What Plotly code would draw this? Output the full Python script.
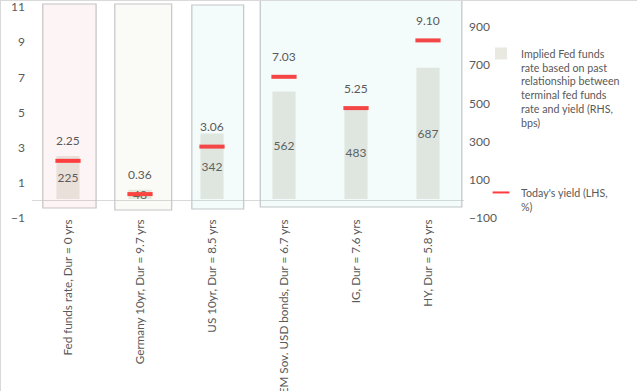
import plotly.graph_objects as go

categories = [
    "Fed funds rate, Dur = 0 yrs",
    "Germany 10yr, Dur = 9.7 yrs",
    "US 10yr, Dur = 8.5 yrs",
    "EM Sov. USD bonds, Dur = 6.7 yrs",
    "IG, Dur = 7.6 yrs",
    "HY, Dur = 5.8 yrs",
]
implied_bps = [225, 48, 342, 562, 483, 687]
todays_yield = [2.25, 0.36, 3.06, 7.03, 5.25, 9.10]

bar_name = ("Implied Fed funds<br>rate based on past<br>relationship between"
            "<br>terminal fed funds<br>rate and yield (RHS,<br>bps)")
line_name = "Today's yield (LHS,<br>%)"

FONT = "Lato"
TXT = "#595959"
W, H = 637, 391
ML, MR, MT, MB = 32, 173, 7, 173
PW = W - ML - MR
PH = H - MT - MB
BOTTOM = H - MB  # pixel row of plot bottom


def ypap(px):
    return (BOTTOM - px) / PH


def xpap(i):
    # category index -> paper x
    return (i + 0.5) / len(categories)


fig = go.Figure()
fig.add_trace(go.Bar(
    x=categories, y=implied_bps, name=bar_name, yaxis="y",
    marker=dict(color="#e9e9e1", line=dict(width=0)),
    width=0.32,
    text=[str(v) for v in implied_bps], textposition="inside",
    insidetextanchor="middle", textangle=0, constraintext="none",
    textfont=dict(family=FONT, size=12, color=TXT),
    legend="legend",
))
fig.add_trace(go.Scatter(
    x=categories, y=todays_yield, name=line_name, mode="markers",
    yaxis="y2",
    marker=dict(symbol="line-ew", size=18, color="#ff3b3b",
                line=dict(color="#ff3b3b", width=4)),
    legend="legend2",
))

annotations = []
for c, v in zip(categories, todays_yield):
    annotations.append(dict(x=c, y=v, xref="x", yref="y2", text=f"{v:.2f}",
                            showarrow=False, yshift=20,
                            font=dict(family=FONT, size=12, color=TXT)))

boxes = [
    (-0.35, 0.39, 4, 208, "rgba(230,120,120,0.07)", "#c6c2c2"),
    (0.65, 1.44, 4, 210, "rgba(190,200,130,0.07)", "#c6c6c6"),
    (1.72, 2.44, 5, 209, "rgba(120,200,210,0.08)", "#c2c6c7"),
    (2.67, 5.47, 0, 207, "rgba(120,200,210,0.08)", "#bfc5c6"),
]
shapes = []
for x0, x1, top, bot, fill, border in boxes:
    shapes.append(dict(type="rect", xref="paper", yref="paper",
                       x0=xpap(x0), x1=xpap(x1), y0=ypap(bot), y1=ypap(top),
                       fillcolor=fill, line=dict(color=border, width=1.2),
                       layer="above"))
# chart border (left and top)
shapes.append(dict(type="line", xref="paper", yref="paper",
                   x0=(0.5 - ML) / PW, x1=(0.5 - ML) / PW, y0=ypap(H), y1=ypap(0),
                   line=dict(color="#d9d9d9", width=1)))
shapes.append(dict(type="line", xref="paper", yref="paper",
                   x0=-ML / PW, x1=(PW + MR) / PW, y0=ypap(0.5), y1=ypap(0.5),
                   line=dict(color="#d9d9d9", width=1)))

fig.update_layout(
    width=W, height=H,
    margin=dict(l=ML, r=MR, t=MT, b=MB, autoexpand=False),
    paper_bgcolor="white", plot_bgcolor="white",
    font=dict(family=FONT, size=12, color=TXT),
    showlegend=True,
    xaxis=dict(type="category", range=[-0.5, 5.5], tickangle=-90,
               showgrid=False, showline=False, ticks="",
               tickfont=dict(family=FONT, size=11.7, color=TXT),
               automargin=False, ticklabelstandoff=-2,
               ticklabeloverflow="allow"),
    yaxis=dict(range=[-100, 1005], tick0=-100, dtick=200, side="right",
               showgrid=False, zeroline=False, showline=False,
               ticks="", automargin=False,
               tickfont=dict(family=FONT, size=12, color=TXT),
               ticklabelstandoff=4, ticklabeloverflow="allow"),
    yaxis2=dict(range=[-1, 11], tick0=-1, dtick=2, overlaying="y", side="left",
                showgrid=False,
                zeroline=True, zerolinecolor="#d9d9d9", zerolinewidth=1,
                showline=False, ticks="", automargin=False,
                tickfont=dict(family=FONT, size=12, color=TXT),
                ticklabelstandoff=6, ticklabeloverflow="allow"),
    legend=dict(x=(481 - ML) / PW, y=ypap(40), xanchor="left", yanchor="top",
                valign="top", font=dict(family=FONT, size=10.7, color=TXT),
                bgcolor="rgba(0,0,0,0)", borderwidth=0),
    legend2=dict(x=(481 - ML) / PW, y=ypap(179), xanchor="left", yanchor="top",
                 valign="top", itemsizing="constant",
                 font=dict(family=FONT, size=10.7, color=TXT),
                 bgcolor="rgba(0,0,0,0)", borderwidth=0),
    shapes=shapes, annotations=annotations,
)

fig.write_html("out.html", config={"displayModeBar": False},
               post_script="document.body.style.margin='0';")
